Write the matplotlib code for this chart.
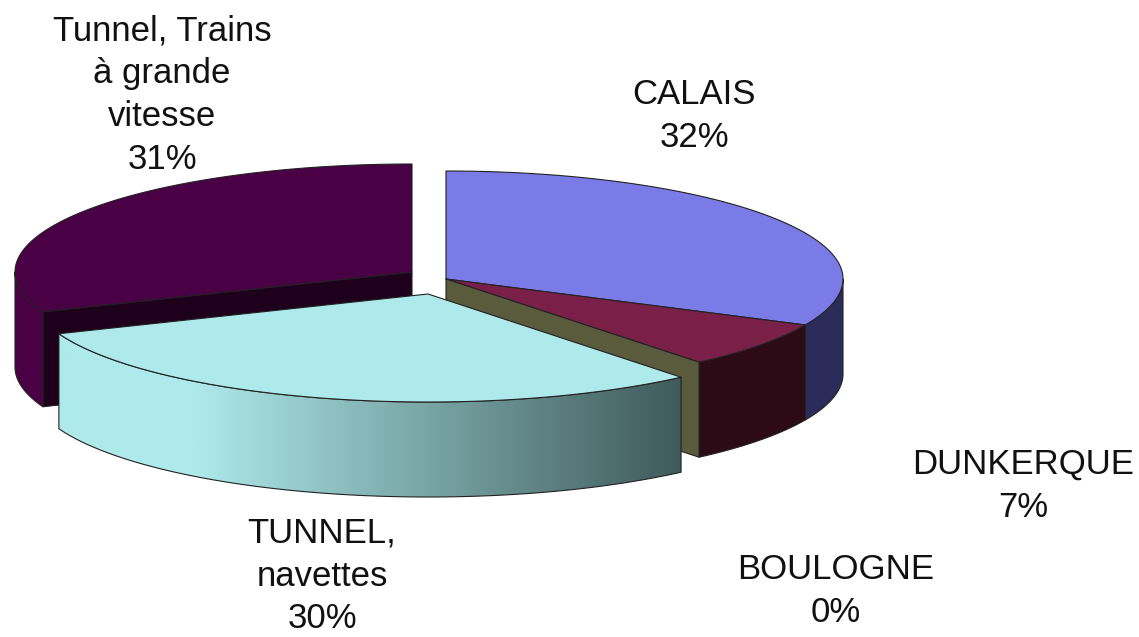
import numpy as np
import matplotlib
matplotlib.use("Agg")
import matplotlib.pyplot as plt
from matplotlib.patches import Polygon

plt.rcParams['font.family'] = ['Liberation Sans', 'DejaVu Sans']

# Data
categories = ["CALAIS", "DUNKERQUE", "BOULOGNE", "TUNNEL,\nnavettes", "Tunnel, Trains\nà grande\nvitesse"]
values = [32.0, 7.0, 0.0, 30.0, 31.0]
percent_labels = ["32%", "7%", "0%", "30%", "31%"]

top_colors = ["#7B7BE8", "#7A1F47", "#5A5A3C", "#AEE9EB", "#4A0044"]
side_colors = ["#2C2C5A", "#2C0A16", "#5A5A3C", "#AEE9EB", "#4A0044"]
wall_colors = ["#2C2C5A", "#2C0A16", "#5A5A3C", "#3F5A5A", "#1E001C"]
centers = [(446, 279), (446, 279), (446, 279), (428, 294), (412, 272)]
label_xy = [(694, 116), (1023, 486), (836, 591), (322, 576), (162, 95)]

RX, RY, DEPTH = 397.0, 108.0, 95.0
LINE = "#222222"

fig = plt.figure(figsize=(11.39, 6.37), dpi=100)
ax = fig.add_axes([0, 0, 1, 1])
ax.set_xlim(0, 1139)
ax.set_ylim(637, 0)
ax.axis("off")

fracs = np.cumsum([0] + values) / sum(values) * 2 * np.pi


def rim(c, a0, a1, n=120):
    t = np.linspace(a0, a1, n)
    return np.column_stack([c[0] + RX * np.sin(t), c[1] - RY * np.cos(t)])


def poly(pts, fc, z):
    p = Polygon(pts, closed=True, facecolor=fc, edgecolor=LINE, linewidth=0.8, zorder=z, joinstyle="round")
    ax.add_patch(p)
    return p


def side_pts(c, a0, a1):
    r = rim(c, a0, a1)
    return np.vstack([r, r[::-1] + [0, DEPTH]])


def wall_pts(c, a):
    e = rim(c, a, a, 1)[0]
    return np.array([c, e, e + [0, DEPTH], (c[0], c[1] + DEPTH)])


def visible(a0, a1):
    # the outer rim shows only where it faces the viewer (lower half of the ellipse)
    lo = max(a0, np.pi / 2)
    hi = min(a1, 3 * np.pi / 2)
    return (lo, hi) if lo < hi else None


# draw back group first, then right group, then the exploded front slice
for z, i in enumerate([4, 0, 1, 2, 3]):
    c = centers[i]
    a0, a1 = fracs[i], fracs[i + 1]
    base = 10 * (z + 1)
    if i == 4:
        poly(wall_pts(c, a0), wall_colors[i], base)
    if i == 2:
        poly(wall_pts(c, a1), wall_colors[i], base)
        continue
    vis = visible(a0, a1)
    if vis and i != 3:
        poly(side_pts(c, *vis), side_colors[i], base + 1)
    if i == 3:
        # gradient side of the front slice
        p = poly(side_pts(c, *vis), "none", base + 3)
        grad = np.linspace(1, 0, 256).reshape(1, -1)
        light = np.array(matplotlib.colors.to_rgb("#AEE9EB"))
        dark = np.array(matplotlib.colors.to_rgb("#3F5A5A"))
        ramp = np.clip(grad / 0.78, 0, 1)[..., None]
        img = dark + (light - dark) * ramp
        im = ax.imshow(img, extent=(c[0] + RX * np.sin(a1), c[0] + RX * np.sin(a0), 637, 0),
                       aspect="auto", zorder=base + 1, interpolation="bilinear")
        im.set_clip_path(p.get_path(), p.get_transform())
        ax.set_xlim(0, 1139)
        ax.set_ylim(637, 0)
    r = rim(c, a0, a1)
    poly(np.vstack([[c], r]), top_colors[i], base + 4)

for name, pct, (x, y) in zip(categories, percent_labels, label_xy):
    ax.text(x, y, f"{name}\n{pct}", ha="center", va="center", fontsize=25,
            color="#111111", linespacing=1.38, zorder=100)

fig.savefig("out.png", dpi=100)
